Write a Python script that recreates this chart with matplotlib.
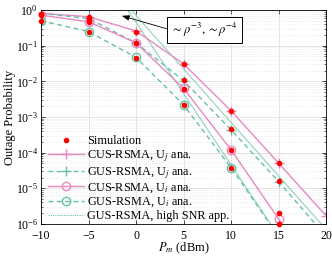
import numpy as np
import matplotlib
matplotlib.use('Agg')
import matplotlib.pyplot as plt
from matplotlib.ticker import LogLocator, NullFormatter

plt.rcParams['font.family'] = ['Liberation Serif', 'DejaVu Serif']
plt.rcParams['mathtext.fontset'] = 'stix'

# transmit power (dBm)
pm = [-10, -5, 0, 5, 10, 15, 20]
cus_j = [0.81, 0.65, 0.26, 0.031, 1.5e-3, 5.1e-5, 1.7e-6]
gus_j = [0.81, 0.58, 0.12, 0.0105, 4.4e-4, 1.55e-5, 4.5e-7]
cus_i = [0.72, 0.47, 0.12, 0.0064, 1.2e-4, 1.4e-6, 1.2e-8]
gus_i = [0.50, 0.25, 0.047, 0.0022, 3.8e-5, 4.5e-7, 4e-9]

# high SNR approximations
hs_j = [708.0, 22.4, 0.708, 0.0224, 7.08e-4, 2.24e-5, 7.08e-7]
hs_i = [4570.0, 45.7, 0.457, 4.57e-3, 4.57e-5, 4.57e-7, 4.57e-9]

# simulation
pm_sim = [-10, -5, 0, 5, 10, 15]
sim_cus_j = [0.80, 0.64, 0.25, 0.031, 1.5e-3, 5.0e-5]
sim_gus_j = [0.80, 0.57, 0.12, 0.0106, 4.5e-4, 1.6e-5]
sim_cus_i = [0.71, 0.46, 0.12, 0.0063, 1.2e-4, 2.0e-6]
sim_gus_i = [0.49, 0.25, 0.046, 0.0022, 3.7e-5, 1.0e-6]

pink = '#E78AC3'
green = '#66C2A5'

fig = plt.figure(figsize=(3.32, 2.58), dpi=100)
ax = fig.add_axes([0.1235, 0.132, 0.8585, 0.829])

ax.plot(pm, hs_j, color=green, lw=0.8, ls=(0, (1, 0.4)), zorder=2)
ax.plot(pm, hs_i, color=green, lw=0.8, ls=(0, (1, 0.4)), zorder=2)

l_cj, = ax.plot(pm, cus_j, color=pink, lw=1.0, marker='+', ms=7, mew=1.0)
l_gj, = ax.plot(pm, gus_j, color=green, lw=1.0, ls=(0, (3.5, 2.5)), marker='+', ms=7, mew=1.0)
l_ci, = ax.plot(pm, cus_i, color=pink, lw=1.0, marker='o', ms=6, mfc='none', mew=1.0)
l_gi, = ax.plot(pm, gus_i, color=green, lw=1.0, ls=(0, (3.5, 2.5)), marker='o', ms=6, mfc='none', mew=1.0)

for s in [sim_cus_j, sim_gus_j, sim_cus_i, sim_gus_i]:
    l_sim, = ax.plot(pm_sim, s, ls='none', marker='o', ms=3.0, color='red', clip_on=False, zorder=5)

l_hs, = ax.plot([], [], color=green, lw=0.8, ls=(0, (1, 1)))

ax.set_yscale('log')
ax.set_xlim(-10, 20)
ax.set_ylim(1e-6, 1)
ax.set_xticks([-10, -5, 0, 5, 10, 15, 20])
ax.yaxis.set_major_locator(LogLocator(base=10, numticks=10))
ax.yaxis.set_minor_locator(LogLocator(base=10, subs=np.arange(2, 10), numticks=10))
ax.yaxis.set_minor_formatter(NullFormatter())
ax.tick_params(which='both', direction='in', top=True, right=True, labelsize=8.5)
ax.tick_params(axis='x', pad=4.5)
ax.tick_params(axis='y', pad=2)
ax.tick_params(which='major', length=3, width=0.5)
ax.tick_params(which='minor', length=1.5, width=0.4)
ax.grid(True, which='major', color='#e0e0e0', lw=0.6)
ax.grid(True, which='minor', axis='y', color='#e2e2e2', lw=0.5, ls=':')
ax.set_axisbelow(True)
for sp in ax.spines.values():
    sp.set_linewidth(0.6)

ax.set_xlabel(r'$P_m$ (dBm)', fontsize=9, labelpad=-1)
ax.set_ylabel('Outage Probability', fontsize=9, labelpad=0)

ax.legend([l_sim, l_cj, l_gj, l_ci, l_gi, l_hs],
          ['Simulation', r'CUS-RSMA, U$_j$ ana.', r'GUS-RSMA, U$_j$ ana.',
           r'CUS-RSMA, U$_i$ ana.', r'GUS-RSMA, U$_i$ ana.', 'GUS-RSMA, high SNR app.'],
          loc='lower left', bbox_to_anchor=(0.0, -0.025), frameon=False, fontsize=8.8,
          handlelength=2.9, handletextpad=0.3, labelspacing=0.06, borderaxespad=0.2)

ax.annotate(r'$\sim\rho^{-3}, \sim\rho^{-4}$', xy=(-1.5, 0.69), xytext=(7.2, 0.275),
            fontsize=9, ha='center', va='center',
            bbox=dict(boxstyle='square,pad=0.35', fc='white', ec='black', lw=0.7),
            arrowprops=dict(arrowstyle='-|>,head_length=0.5,head_width=0.18', color='black',
                            lw=0.6, shrinkA=0, shrinkB=0, relpos=(0, 0.5)))

fig.savefig('out.png', dpi=100)
